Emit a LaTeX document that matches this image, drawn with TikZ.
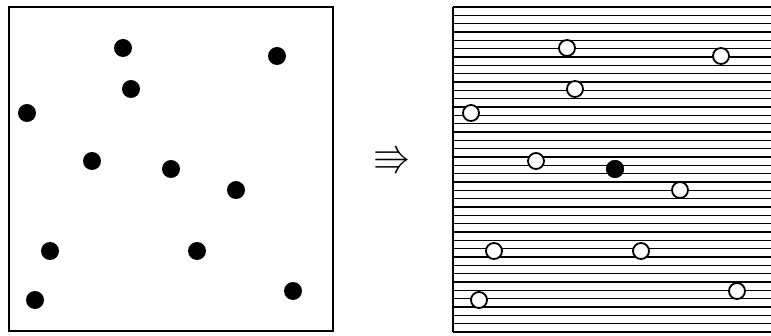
\documentclass[tikz,border=0pt]{standalone}
\usepackage{amsmath,amssymb}
\usetikzlibrary{positioning}
\begin{document}
\begin{tikzpicture}[x=1pt,y=-1pt,
  dot/.style={circle,fill=black,inner sep=0pt,minimum size=18pt},
  ring/.style={circle,draw=black,line width=1.8pt,fill=white,
    inner sep=0pt,minimum size=16pt},
  frame/.style={line width=1.3pt}]
\useasboundingbox (0,0) rectangle (771,336);
% left panel
\draw[frame] (9,7) rectangle (333,331);
% right panel: hatching
\foreach \i in {0,...,39}
  \draw[line width=1.4pt] (453,7+\i*8.33) -- (772,7+\i*8.33);
\draw[frame] (453,7) -- (453,332);
% points
\foreach \x/\y [count=\n] in {123/48,277/56,131/89,27/113,92/161,171/169,
    236/190,50/251,197/251,35/300,293/291} {
  \node[dot] (p\n) at (\x,\y) {};
  \node[ring] (q\n) at (\x+444,\y) {};
}
\node[dot] (hit) at (q6) {};
\node[scale=3.8] (arr) at (392,160) {$\Rrightarrow$};
\end{tikzpicture}
\end{document}
